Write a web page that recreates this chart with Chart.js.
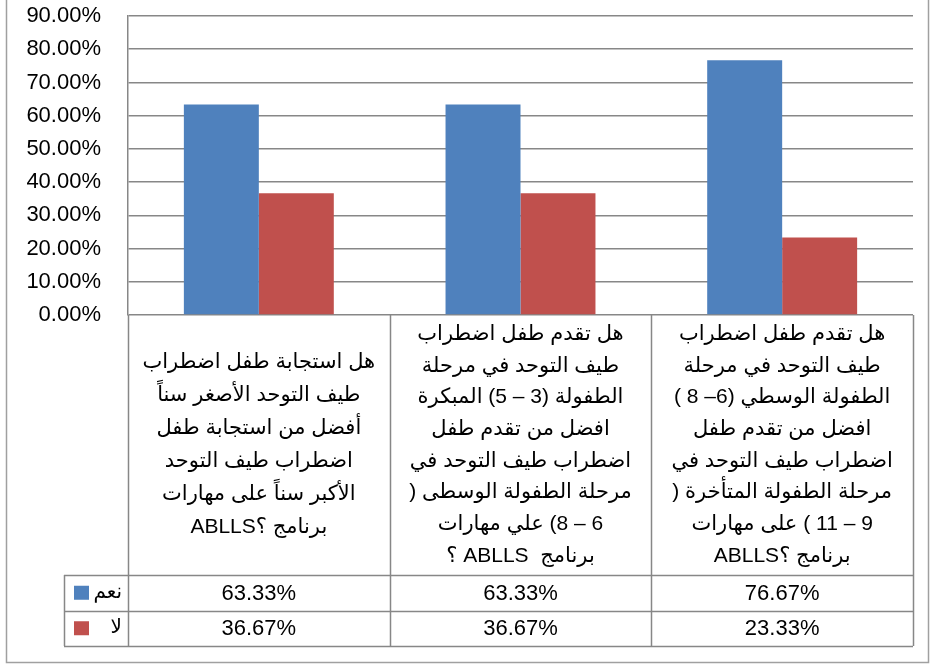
<!DOCTYPE html>
<html>
<head>
<meta charset="utf-8">
<script src="https://cdn.jsdelivr.net/npm/chart.js@4.4.1/dist/chart.umd.min.js"></script>
<style>
  html, body { margin: 0; padding: 0; background: #fff; }
  #wrap { width: 930px; height: 669px; position: relative; }
</style>
</head>
<body>
<div id="wrap"><canvas id="chart" width="930" height="669"></canvas></div>
<script>
// category texts (one array of lines per column)
const categories = [
  ["هل استجابة طفل اضطراب", "طيف التوحد الأصغر سناً", "أفضل من استجابة طفل", "اضطراب طيف التوحد", "الأكبر سناً على مهارات", "برنامج ؟ABLLS"],
  ["هل تقدم طفل اضطراب", "طيف التوحد في مرحلة", "الطفولة (3 – 5) المبكرة", "افضل من تقدم طفل", "اضطراب طيف التوحد في", "مرحلة الطفولة الوسطى (", "6 – 8) علي مهارات", "برنامج  ABLLS ؟"],
  ["هل تقدم طفل اضطراب", "طيف التوحد في مرحلة", "الطفولة الوسطي (6– 8 )", "افضل من تقدم طفل", "اضطراب طيف التوحد في", "مرحلة الطفولة المتأخرة (", "9 – 11 ) على مهارات", "برنامج ؟ABLLS"]
];
const seriesNames = ["نعم", "لا"];
const yesValues = [0.6333, 0.6333, 0.7667];
const noValues = [0.3667, 0.3667, 0.2333];
const yMin = 0, yMax = 0.9, yStep = 0.1;

const blue = "#4F81BD";
const red = "#C0504D";
const lineGray = "#878787";

const pct = v => (v * 100).toFixed(2) + "%";

// draws the excel style data table under the plot + outer frame
const dataTable = {
  id: "dataTable",
  beforeDraw(chart) {
    const ctx = chart.ctx;
    ctx.save();
    ctx.fillStyle = "#fff";
    ctx.fillRect(0, 0, chart.width, chart.height);
    ctx.strokeStyle = "#a0a0a0";
    ctx.lineWidth = 1.5;
    ctx.strokeRect(6.5, -5, chart.width - 8, chart.height - 1.5);
    ctx.restore();
  },
  afterDraw(chart) {
    const ctx = chart.ctx;
    const area = chart.chartArea;
    const xs = chart.scales.x;
    const n = chart.data.labels.length;
    const colW = (area.right - area.left) / n;
    const labelBottom = area.bottom + 260;
    const rowH = 35.5;
    const legendLeft = area.left - 64;
    const tableBottom = labelBottom + rowH * chart.data.datasets.length;

    ctx.save();
    ctx.strokeStyle = lineGray;
    ctx.lineWidth = 1.5;
    ctx.beginPath();
    // column separators
    for (let i = 0; i <= n; i++) {
      const x = Math.round(area.left + colW * i) + 0.5;
      ctx.moveTo(x, area.bottom);
      ctx.lineTo(x, tableBottom);
    }
    // rows
    for (let r = 0; r <= chart.data.datasets.length; r++) {
      const y = Math.round(labelBottom + rowH * r) + 0.5;
      ctx.moveTo(legendLeft, y);
      ctx.lineTo(area.right, y);
    }
    ctx.moveTo(legendLeft + 0.5, labelBottom);
    ctx.lineTo(legendLeft + 0.5, tableBottom);
    ctx.stroke();

    // category texts
    ctx.fillStyle = "#000";
    ctx.font = "21px 'Liberation Sans', 'DejaVu Sans', sans-serif";
    ctx.textAlign = "center";
    ctx.textBaseline = "middle";
    ctx.direction = "rtl";
    chart.data.labels.forEach((lines, i) => {
      const lh = lines.length > 6 ? 31.7 : 33;
      const cx = xs.getPixelForValue(i);
      const cy = (area.bottom + labelBottom) / 2;
      const top = cy - (lines.length - 1) * lh / 2;
      lines.forEach((t, k) => ctx.fillText(t, cx, top + k * lh));
    });

    // value rows + legend keys
    chart.data.datasets.forEach((ds, r) => {
      const cy = labelBottom + rowH * r + rowH / 2;
      ctx.direction = "ltr";
      ctx.textAlign = "center";
      ctx.font = "22px 'Liberation Sans', sans-serif";
      ds.data.forEach((v, i) => ctx.fillText(pct(v), xs.getPixelForValue(i), cy + 1));
      ctx.fillStyle = ds.backgroundColor;
      ctx.fillRect(legendLeft + 10, cy - 7, 15, 14);
      ctx.fillStyle = "#000";
      ctx.direction = "rtl";
      ctx.textAlign = "right";
      ctx.font = "20px 'DejaVu Sans', sans-serif";
      ctx.fillText(ds.label, area.left - 6, cy);
    });
    ctx.restore();
  }
};

new Chart(document.getElementById("chart"), {
  type: "bar",
  data: {
    labels: categories,
    datasets: [
      { label: seriesNames[0], data: yesValues, backgroundColor: blue },
      { label: seriesNames[1], data: noValues, backgroundColor: red }
    ]
  },
  options: {
    responsive: false,
    animation: false,
    categoryPercentage: 0.573,
    barPercentage: 1,
    layout: { padding: { left: 23, right: 17, top: 16, bottom: 354 } },
    plugins: { legend: { display: false }, tooltip: { enabled: false } },
    scales: {
      x: { display: false },
      y: {
        min: yMin,
        max: yMax,
        afterFit: s => { s.width = 105; s.paddingTop = 13; },
        ticks: {
          stepSize: yStep,
          padding: 27,
          color: "#000",
          font: { family: "'Liberation Sans', sans-serif", size: 22 },
          callback: v => pct(v)
        },
        grid: { color: lineGray, lineWidth: 1.5, drawTicks: false },
        border: { display: true, color: lineGray, width: 1.5 }
      }
    }
  },
  plugins: [dataTable]
});
</script>
</body>
</html>
